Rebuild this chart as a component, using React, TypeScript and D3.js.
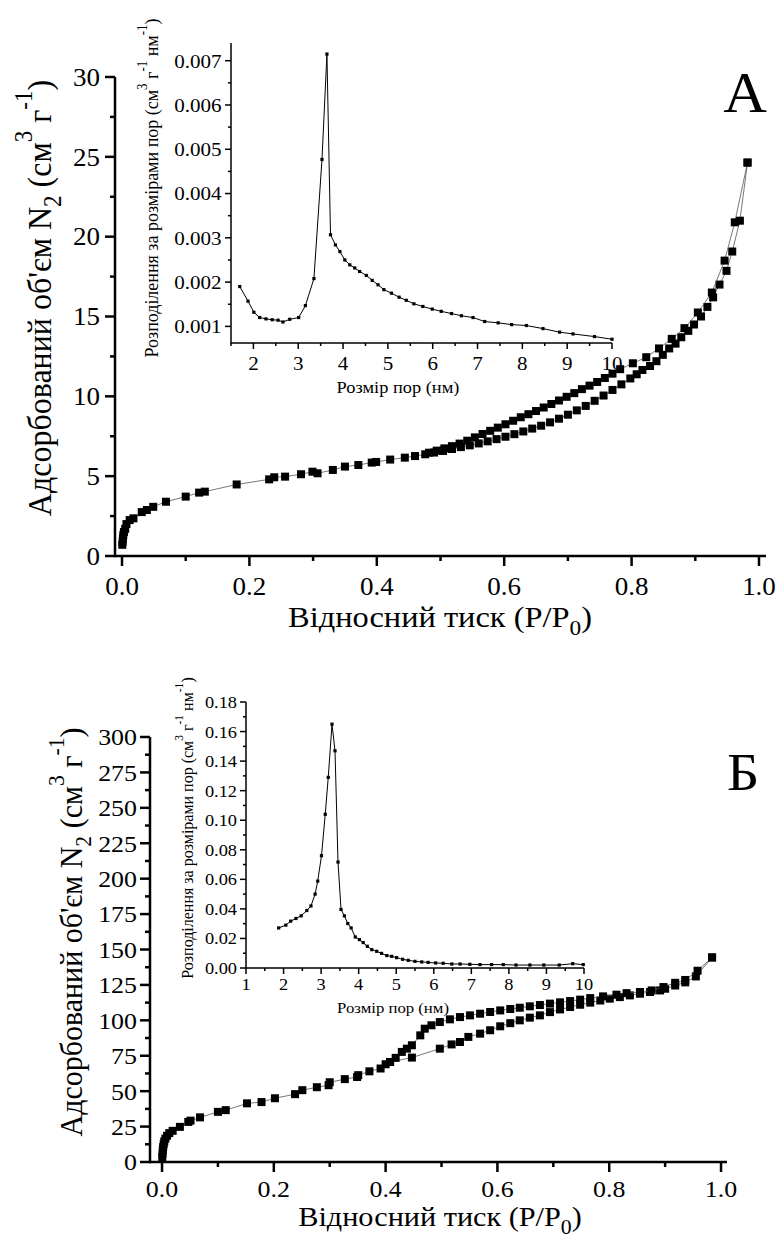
import React from 'react';
import * as d3 from 'd3';

const FONT = 'Liberation Serif';
type Pt = [number, number];

// ---------- Panel A data ----------
const isoAAdsorption: Pt[] = [
  [0.0005, 0.7], [0.001, 0.9], [0.0015, 1.1], [0.002, 1.3], [0.003, 1.5], [0.005, 1.7], [0.007, 2.0],
  [0.012, 2.25], [0.018, 2.36], [0.031, 2.75], [0.039, 2.88], [0.049, 3.08], [0.069, 3.4], [0.1, 3.72],
  [0.121, 3.97], [0.13, 4.03], [0.18, 4.48], [0.231, 4.8], [0.239, 4.93], [0.256, 4.97], [0.281, 5.12],
  [0.299, 5.28], [0.307, 5.18], [0.331, 5.39], [0.35, 5.6], [0.371, 5.7], [0.392, 5.85], [0.399, 5.89],
  [0.421, 6.04], [0.444, 6.16], [0.46, 6.26], [0.476, 6.37], [0.49, 6.48], [0.504, 6.58], [0.518, 6.7],
  [0.532, 6.82], [0.546, 6.93], [0.56, 7.05], [0.574, 7.18], [0.588, 7.32], [0.602, 7.47], [0.616, 7.63],
  [0.63, 7.8], [0.644, 7.98], [0.658, 8.16], [0.672, 8.37], [0.686, 8.6], [0.7, 8.85], [0.714, 9.12],
  [0.728, 9.4], [0.742, 9.72], [0.756, 10.05], [0.77, 10.4], [0.784, 10.75], [0.798, 11.12], [0.808, 11.38],
  [0.817, 11.65], [0.829, 11.9], [0.839, 12.2], [0.849, 12.6], [0.859, 13.0], [0.869, 13.3], [0.878, 13.7],
  [0.889, 14.1], [0.898, 14.5], [0.909, 15.0], [0.919, 15.6], [0.928, 16.2], [0.938, 17.0], [0.949, 17.86],
  [0.958, 19.07], [0.97, 21.0], [0.982, 24.64],
];
const isoADesorption: Pt[] = [
  [0.982, 24.64], [0.962, 20.9], [0.946, 18.5], [0.926, 16.5], [0.904, 15.25], [0.883, 14.27], [0.863, 13.6],
  [0.843, 13.0], [0.823, 12.45], [0.802, 12.07], [0.782, 11.7], [0.77, 11.42], [0.758, 11.15], [0.746, 10.9],
  [0.734, 10.67], [0.722, 10.45], [0.71, 10.2], [0.698, 9.97], [0.686, 9.74], [0.674, 9.52], [0.662, 9.3],
  [0.65, 9.08], [0.638, 8.88], [0.626, 8.69], [0.614, 8.47], [0.602, 8.25], [0.59, 8.04], [0.578, 7.84],
  [0.566, 7.64], [0.554, 7.43], [0.542, 7.22], [0.53, 7.04], [0.518, 6.88], [0.506, 6.74], [0.494, 6.6],
  [0.482, 6.47],
];
const psdA: Pt[] = [
  [1.695, 0.0019], [1.88, 0.00157], [2.01, 0.00132], [2.14, 0.0012], [2.28, 0.00117], [2.42, 0.00115],
  [2.55, 0.00114], [2.66, 0.0011], [2.81, 0.00116], [3.01, 0.0012], [3.16, 0.00147], [3.35, 0.00208],
  [3.53, 0.00477], [3.64, 0.00715], [3.72, 0.00307], [3.83, 0.00284], [3.93, 0.00269], [4.04, 0.0025],
  [4.15, 0.00239], [4.26, 0.00232], [4.37, 0.00224], [4.52, 0.00215], [4.65, 0.00204], [4.78, 0.00194],
  [4.91, 0.00183], [5.08, 0.00175], [5.25, 0.00166], [5.41, 0.00159], [5.58, 0.00151], [5.78, 0.00145],
  [5.99, 0.00139], [6.19, 0.00134], [6.42, 0.00129], [6.64, 0.00124], [6.9, 0.0012], [7.16, 0.00111],
  [7.46, 0.00108], [7.76, 0.00104], [8.09, 0.00102], [8.46, 0.00095], [8.83, 0.00087], [9.13, 0.00083],
  [9.61, 0.00077], [10.0, 0.00071],
];

// ---------- Panel B data ----------
const isoBAdsorption: Pt[] = [
  [0.0005, 3.5], [0.001, 6], [0.0015, 8.5], [0.002, 10.5], [0.003, 12.5], [0.004, 14.5], [0.006, 16.5],
  [0.009, 18.5], [0.013, 20.4], [0.019, 22], [0.032, 24.8], [0.047, 28.3], [0.051, 29.2], [0.068, 31.5],
  [0.1, 35.4], [0.114, 36.6], [0.152, 41.4], [0.178, 42.3], [0.202, 45], [0.238, 47.9], [0.251, 50.7],
  [0.277, 52.8], [0.298, 54.2], [0.3, 56.3], [0.327, 58.5], [0.349, 60], [0.351, 61.3], [0.371, 64],
  [0.391, 66], [0.4, 69], [0.408, 70.6], [0.447, 73.7], [0.497, 80], [0.518, 83], [0.533, 84.7],
  [0.548, 88.3], [0.569, 90.6], [0.587, 93], [0.605, 95.8], [0.623, 98], [0.64, 100], [0.658, 101.9],
  [0.676, 103.5], [0.694, 105.8], [0.712, 107.7], [0.73, 109.4], [0.748, 111], [0.766, 112.5], [0.784, 114],
  [0.801, 115.3], [0.819, 116.4], [0.837, 117.6], [0.855, 118.8], [0.873, 120], [0.891, 121.1], [0.9, 122.3],
  [0.918, 124.6], [0.936, 126.8], [0.955, 131], [0.984, 144.4],
];
const isoBDesorption: Pt[] = [
  [0.984, 144.4], [0.958, 135], [0.936, 128.5], [0.918, 126.5], [0.897, 123.5], [0.876, 121.1], [0.855, 120],
  [0.831, 119.2], [0.813, 118.1], [0.789, 116.9], [0.766, 115.7], [0.748, 114.6], [0.73, 113.6], [0.712, 112.7],
  [0.694, 111.8], [0.676, 110.8], [0.658, 109.9], [0.64, 108.9], [0.623, 108], [0.605, 107], [0.587, 105.9],
  [0.569, 104.7], [0.551, 103.5], [0.533, 102.3], [0.515, 100.7], [0.497, 98.8], [0.482, 96.5], [0.47, 94.1],
  [0.462, 89.4], [0.447, 82.4], [0.438, 80], [0.429, 77.7], [0.418, 73.5], [0.408, 70.6],
];
const psdB: Pt[] = [
  [1.87, 0.0271], [2.06, 0.029], [2.19, 0.0317], [2.33, 0.0335], [2.47, 0.0353], [2.62, 0.0389], [2.73, 0.042],
  [2.84, 0.05], [2.91, 0.0588], [3.01, 0.076], [3.11, 0.104], [3.19, 0.129], [3.29, 0.165], [3.37, 0.147],
  [3.45, 0.0717], [3.53, 0.0396], [3.62, 0.0353], [3.71, 0.0301], [3.8, 0.0271], [3.91, 0.021], [4.02, 0.0192],
  [4.12, 0.0172], [4.23, 0.0147], [4.35, 0.0124], [4.48, 0.0113], [4.61, 0.0099], [4.75, 0.0084], [4.88, 0.0079],
  [5.01, 0.007], [5.17, 0.0059], [5.32, 0.0052], [5.5, 0.0045], [5.68, 0.0041], [5.85, 0.0038], [6.05, 0.0034],
  [6.25, 0.0032], [6.48, 0.0027], [6.7, 0.0027], [6.96, 0.0025], [7.23, 0.0023], [7.54, 0.0023], [7.85, 0.0023],
  [8.19, 0.002], [8.56, 0.002], [8.93, 0.002], [9.34, 0.002], [9.7, 0.0029], [9.98, 0.0023],
];

// ---------- ticks ----------
const mainXTicks = [0, 0.2, 0.4, 0.6, 0.8, 1.0];
const mainXMinor = [0.1, 0.3, 0.5, 0.7, 0.9];
const mainAYTicks = [0, 5, 10, 15, 20, 25, 30];
const mainAYMinor = [2.5, 7.5, 12.5, 17.5, 22.5, 27.5];
const mainBYTicks = [0, 25, 50, 75, 100, 125, 150, 175, 200, 225, 250, 275, 300];
const mainBYMinor = [12.5, 37.5, 62.5, 87.5, 112.5, 137.5, 162.5, 187.5, 212.5, 237.5, 262.5, 287.5];
const insetAXTicks = [2, 3, 4, 5, 6, 7, 8, 9, 10];
const insetAXMinor = [1.5, 2.5, 3.5, 4.5, 5.5, 6.5, 7.5, 8.5, 9.5];
const insetAYTicks = [0.001, 0.002, 0.003, 0.004, 0.005, 0.006, 0.007];
const insetAYMinor = [0.0015, 0.0025, 0.0035, 0.0045, 0.0055, 0.0065];
const insetBXTicks = [1, 2, 3, 4, 5, 6, 7, 8, 9, 10];
const insetBXMinor = [1.5, 2.5, 3.5, 4.5, 5.5, 6.5, 7.5, 8.5, 9.5];
const insetBYTicks = [0, 0.02, 0.04, 0.06, 0.08, 0.1, 0.12, 0.14, 0.16, 0.18];
const insetBYMinor = [0.01, 0.03, 0.05, 0.07, 0.09, 0.11, 0.13, 0.15, 0.17];

type Seg = { t: string; s?: 'sup' | 'sub' };
const yLabelMain: Seg[] = [
  { t: "Адсорбований об'єм N" }, { t: '2', s: 'sub' }, { t: ' (см' }, { t: '3', s: 'sup' },
  { t: ' г' }, { t: '-1', s: 'sup' }, { t: ')' },
];
const xLabelMain: Seg[] = [{ t: 'Відносний тиск (P/P' }, { t: '0', s: 'sub' }, { t: ')' }];
const yLabelInset: Seg[] = [
  { t: 'Розподілення за розмірами пор (см' }, { t: '3', s: 'sup' }, { t: ' г' }, { t: '-1', s: 'sup' },
  { t: ' нм' }, { t: '-1', s: 'sup' }, { t: ')' },
];
const xLabelInset = 'Розмір пор (нм)';

const SX = 1.08;

function renderSegs(parts: Seg[], fs: number) {
  let cur = 0;
  return parts.map((p, i) => {
    const target = p.s === 'sup' ? -0.55 * fs : p.s === 'sub' ? 0.28 * fs : 0;
    const dy = target - cur;
    cur = target;
    return (
      <tspan key={i} dy={dy} style={{ fontFamily: FONT, fontSize: p.s ? fs * 0.72 : fs }}>
        {p.t}
      </tspan>
    );
  });
}

function Txt(props: {
  x: number; y: number; fs: number; anchor?: string; rotate?: boolean; dy?: string;
  children: React.ReactNode;
}) {
  const { x, y, fs, anchor = 'middle', rotate, dy, children } = props;
  return (
    <text
      transform={`translate(${x},${y}) scale(${SX},1)${rotate ? ' rotate(-90)' : ''}`}
      style={{ fontFamily: FONT, fontSize: fs }}
      textAnchor={anchor}
      dy={dy}
      fill="#000"
    >
      {children}
    </text>
  );
}

type AxesProps = {
  xs: d3.ScaleLinear<number, number>;
  ys: d3.ScaleLinear<number, number>;
  xMajor: number[]; xMinor: number[]; yMajor: number[]; yMinor: number[];
  xFmt: (v: number) => string; yFmt: (v: number) => string;
  lw: number; majLen: number; minLen: number; fs: number;
  xLabOff: number; yLabOff: number;
};

function Axes(p: AxesProps) {
  const [x0, x1] = p.xs.range();
  const [y0, y1] = p.ys.range();
  return (
    <g>
      <line x1={x0} x2={x1} y1={y0} y2={y0} stroke="#000" strokeWidth={p.lw} />
      <line x1={x0} x2={x0} y1={y0 + p.lw / 2} y2={y1} stroke="#000" strokeWidth={p.lw} />
      {p.xMajor.map((v) => (
        <line key={'xM' + v} x1={p.xs(v)} x2={p.xs(v)} y1={y0} y2={y0 + p.majLen} stroke="#000" strokeWidth={p.lw} />
      ))}
      {p.xMinor.map((v) => (
        <line key={'xm' + v} x1={p.xs(v)} x2={p.xs(v)} y1={y0} y2={y0 + p.minLen} stroke="#000" strokeWidth={p.lw} />
      ))}
      {p.yMajor.map((v) => (
        <line key={'yM' + v} x1={x0 - p.majLen} x2={x0} y1={p.ys(v)} y2={p.ys(v)} stroke="#000" strokeWidth={p.lw} />
      ))}
      {p.yMinor.map((v) => (
        <line key={'ym' + v} x1={x0 - p.minLen} x2={x0} y1={p.ys(v)} y2={p.ys(v)} stroke="#000" strokeWidth={p.lw} />
      ))}
      {p.xMajor.map((v) => (
        <Txt key={'xl' + v} x={p.xs(v)} y={y0 + p.xLabOff} fs={p.fs}>{p.xFmt(v)}</Txt>
      ))}
      {p.yMajor.map((v) => (
        <Txt key={'yl' + v} x={x0 - p.yLabOff} y={p.ys(v)} fs={p.fs} anchor="end" dy="0.35em">{p.yFmt(v)}</Txt>
      ))}
    </g>
  );
}

function Series(props: {
  data: Pt[]; xs: d3.ScaleLinear<number, number>; ys: d3.ScaleLinear<number, number>;
  size: number; lw: number; stroke: string;
}) {
  const { data, xs, ys, size, lw, stroke } = props;
  const line = d3.line<Pt>().x((d) => xs(d[0])).y((d) => ys(d[1]));
  return (
    <g>
      <path d={line(data) || ''} fill="none" stroke={stroke} strokeWidth={lw} />
      {data.map((d, i) => (
        <rect key={i} x={xs(d[0]) - size / 2} y={ys(d[1]) - size / 2} width={size} height={size} fill="#000" />
      ))}
    </g>
  );
}

export default function App() {
  // Panel A
  const axA = d3.scaleLinear().domain([-0.011, 1.011]).range([115, 766]);
  const ayA = d3.scaleLinear().domain([0, 30]).range([556, 77]);
  const ixA = d3.scaleLinear().domain([1.5, 10]).range([231, 612]);
  const iyA = d3.scaleLinear().domain([0.000625, 0.0074]).range([343, 43]);
  // Panel B
  const axB = d3.scaleLinear().domain([-0.0215, 1.0107]).range([150, 727]);
  const ayB = d3.scaleLinear().domain([0, 300]).range([1162, 737]);
  const ixB = d3.scaleLinear().domain([1, 10]).range([246, 584]);
  const iyB = d3.scaleLinear().domain([0, 0.18]).range([968, 702]);

  const f1 = d3.format('.1f');
  const f3 = d3.format('.3f');
  const f2 = d3.format('.2f');
  const fi = d3.format('d');

  return (
    <svg
      width={778}
      height={1238}
      viewBox="0 0 778 1238"
      style={{ position: 'absolute', left: 0, top: 0, background: '#fff' }}
    >
      <rect width={778} height={1238} fill="#fff" />
      {/* ---------------- Panel A ---------------- */}
      <Series data={isoAAdsorption} xs={axA} ys={ayA} size={8} lw={0.8} stroke="#555" />
      <Series data={isoADesorption} xs={axA} ys={ayA} size={8} lw={0.8} stroke="#555" />
      <Axes xs={axA} ys={ayA} xMajor={mainXTicks} xMinor={mainXMinor} yMajor={mainAYTicks} yMinor={mainAYMinor}
        xFmt={f1} yFmt={fi} lw={2.5} majLen={10} minLen={5} fs={25} xLabOff={39} yLabOff={15} />
      <Txt x={51} y={298} fs={32} rotate>{renderSegs(yLabelMain, 32)}</Txt>
      <Txt x={440} y={627} fs={30}>{renderSegs(xLabelMain, 30)}</Txt>
      <Txt x={745} y={112} fs={56}>А</Txt>

      <Series data={psdA} xs={ixA} ys={iyA} size={3.2} lw={1} stroke="#000" />
      <Axes xs={ixA} ys={iyA} xMajor={insetAXTicks} xMinor={insetAXMinor} yMajor={insetAYTicks} yMinor={insetAYMinor}
        xFmt={fi} yFmt={f3} lw={1.5} majLen={6} minLen={3} fs={19.5} xLabOff={27} yLabOff={9.5} />
      <Txt x={158} y={188} fs={18} rotate>{renderSegs(yLabelInset, 18)}</Txt>
      <Txt x={398} y={393} fs={17}>{xLabelInset}</Txt>

      {/* ---------------- Panel B ---------------- */}
      <Series data={isoBAdsorption} xs={axB} ys={ayB} size={8} lw={0.8} stroke="#555" />
      <Series data={isoBDesorption} xs={axB} ys={ayB} size={8} lw={0.8} stroke="#555" />
      <Axes xs={axB} ys={ayB} xMajor={mainXTicks} xMinor={mainXMinor} yMajor={mainBYTicks} yMinor={mainBYMinor}
        xFmt={f1} yFmt={fi} lw={2.5} majLen={10} minLen={5} fs={24} xLabOff={35} yLabOff={13} />
      <Txt x={82} y={932} fs={30} rotate>{renderSegs(yLabelMain, 30)}</Txt>
      <Txt x={440} y={1226} fs={28}>{renderSegs(xLabelMain, 28)}</Txt>
      <Txt x={743} y={790} fs={52}>Б</Txt>

      <Series data={psdB} xs={ixB} ys={iyB} size={3.2} lw={1} stroke="#000" />
      <Axes xs={ixB} ys={iyB} xMajor={insetBXTicks} xMinor={insetBXMinor} yMajor={insetBYTicks} yMinor={insetBYMinor}
        xFmt={fi} yFmt={f2} lw={1.5} majLen={6} minLen={3} fs={17} xLabOff={22} yLabOff={9} />
      <Txt x={193} y={828} fs={16} rotate>{renderSegs(yLabelInset, 16)}</Txt>
      <Txt x={393} y={1013} fs={15.5}>{xLabelInset}</Txt>
    </svg>
  );
}
